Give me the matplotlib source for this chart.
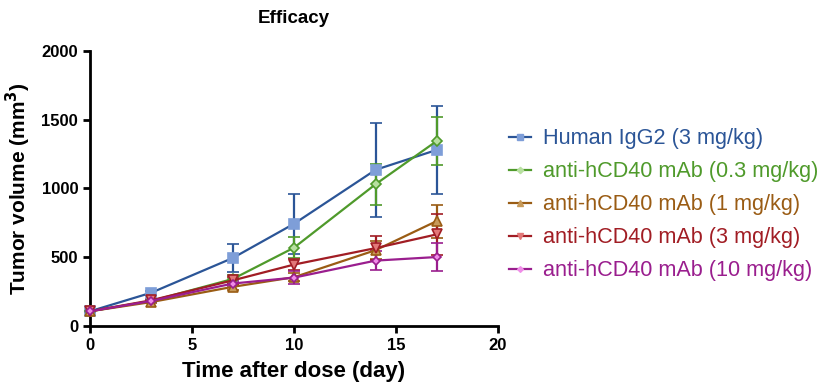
import matplotlib
matplotlib.use("Agg")
import matplotlib.pyplot as plt
from matplotlib.lines import Line2D

plt.rcParams["font.family"] = ["Liberation Sans", "DejaVu Sans"]

# -----------------------------
# DATA
# -----------------------------
days = [0, 3, 7, 10, 14, 17]

labels = [
    "Human IgG2 (3 mg/kg)",
    "anti-hCD40 mAb (0.3 mg/kg)",
    "anti-hCD40 mAb (1 mg/kg)",
    "anti-hCD40 mAb (3 mg/kg)",
    "anti-hCD40 mAb (10 mg/kg)",
]

igg2 = [105, 240, 493, 742, 1135, 1280]
igg2_err = [5, 15, 100, 220, 340, 320]

cd40_03 = [105, 180, 340, 568, 1030, 1345]
cd40_03_err = [5, 10, 30, 77, 148, 178]

cd40_1 = [105, 172, 283, 353, 550, 762]
cd40_1_err = [5, 10, 20, 30, 65, 120]

cd40_3 = [105, 185, 330, 445, 565, 665]
cd40_3_err = [5, 10, 25, 40, 85, 150]

cd40_10 = [105, 180, 307, 350, 474, 500]
cd40_10_err = [5, 10, 20, 45, 70, 100]

# -----------------------------
# STYLE
# -----------------------------
series = [igg2, cd40_03, cd40_1, cd40_3, cd40_10]
errors = [igg2_err, cd40_03_err, cd40_1_err, cd40_3_err, cd40_10_err]
line_colors = ["#2b5597", "#4f9a2b", "#9a5c14", "#a11d24", "#9a1e8e"]
face_colors = ["#7e9ed8", "#b8e0a0", "#c79a5a", "#e27878", "#f08de8"]
markers = ["s", "D", "^", "v", "D"]
sizes = [7, 5, 7, 7, 4.5]

fig = plt.figure(figsize=(8.3, 3.91), dpi=100)
ax = fig.add_axes([90 / 830, 1 - 325.7 / 391, 408 / 830, 274.7 / 391])

handles = []
for y, err, lc, fc, m, ms, lab in zip(series, errors, line_colors, face_colors, markers, sizes, labels):
    mec = fc if m == "s" else lc
    ax.errorbar(days, y, yerr=err, color=lc, ecolor=lc, elinewidth=1.6, capsize=4, capthick=1.6,
                marker=m, markersize=ms, markerfacecolor=fc, markeredgecolor=mec,
                markeredgewidth=1.2, linewidth=1.6, clip_on=False, zorder=3)
    handles.append(Line2D([], [], color=lc, linewidth=1.6, marker=m, markersize=ms * 0.65,
                          markerfacecolor=fc, markeredgecolor=fc, label=lab))

ax.set_xlim(0, 20)
ax.set_ylim(0, 2000)
ax.set_xticks([0, 5, 10, 15, 20])
ax.set_yticks([0, 500, 1000, 1500, 2000])
for side in ["top", "right"]:
    ax.spines[side].set_visible(False)
for side in ["left", "bottom"]:
    ax.spines[side].set_linewidth(2)
ax.tick_params(width=2, length=5, labelsize=12)
for t in ax.get_xticklabels() + ax.get_yticklabels():
    t.set_fontweight("bold")

ax.set_title("Efficacy", fontsize=13.5, fontweight="bold", pad=20)
ax.set_xlabel("Time after dose (day)", fontsize=16, fontweight="bold", labelpad=6)
ax.set_ylabel("Tumor volume (mm$^\\mathbf{3}$)", fontsize=15, fontweight="bold", labelpad=6)

leg = ax.legend(handles=handles, loc="center left", bbox_to_anchor=(1.027, 0.44), frameon=False,
                fontsize=15.6, handlelength=1.0, labelspacing=0.55, handletextpad=0.55,
                borderpad=0, borderaxespad=0)
for text, lc in zip(leg.get_texts(), line_colors):
    text.set_color(lc)

fig.savefig("out.png", dpi=100)
